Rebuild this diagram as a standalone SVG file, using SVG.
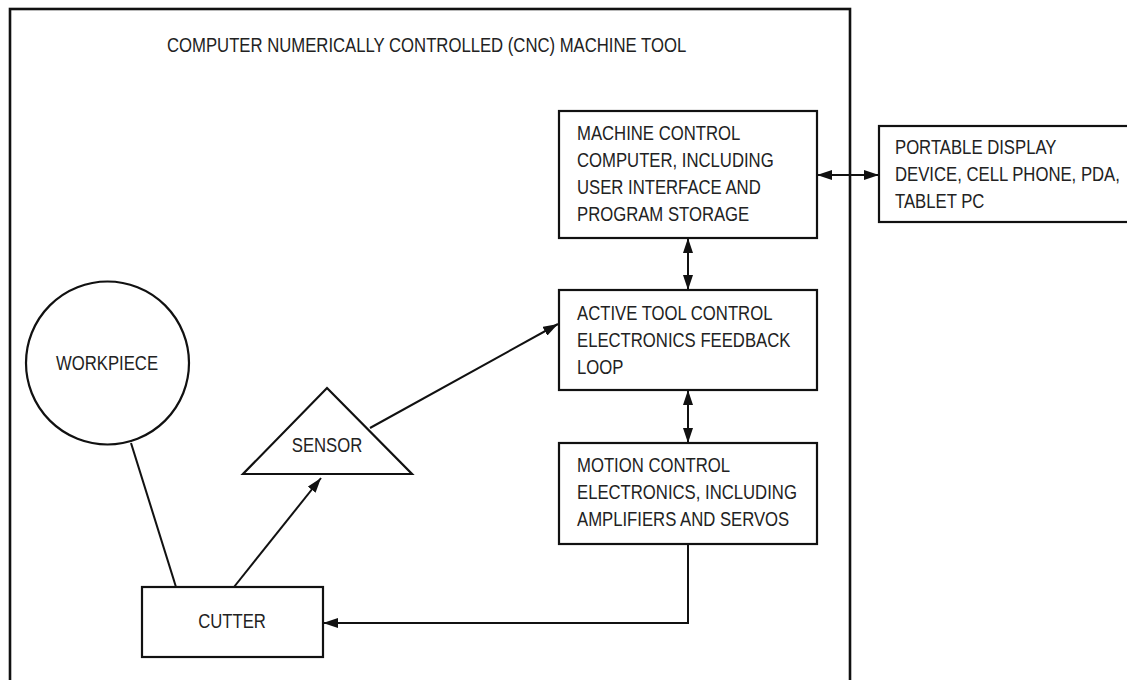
<svg xmlns="http://www.w3.org/2000/svg" width="1127" height="680" viewBox="0 0 1127 680">
<defs>
<style>
.box{fill:#fff;stroke:#111;stroke-width:2.2}
.ln{fill:none;stroke:#111;stroke-width:2}
.t{font-family:"Liberation Sans",Arial,sans-serif;font-size:20.5px;fill:#222}
.c{text-anchor:middle}
</style>
<marker id="ah" viewBox="0 0 15 10" refX="15" refY="5" markerWidth="15" markerHeight="10" markerUnits="userSpaceOnUse" orient="auto-start-reverse">
<path d="M0,0 L15,5 L0,10 Z" fill="#111"/>
</marker>
</defs>
<rect width="1127" height="680" fill="#fff"/>
<g id="frame">
<rect x="10" y="9" width="840" height="690" fill="none" stroke="#111" stroke-width="2.6"/>
<text class="t" transform="translate(167,52) scale(0.815,1)">COMPUTER NUMERICALLY CONTROLLED (CNC) MACHINE TOOL</text>
</g>
<g id="connectors">
<line class="ln" x1="817" y1="175" x2="879" y2="175" marker-start="url(#ah)" marker-end="url(#ah)"/>
<line class="ln" x1="688" y1="238" x2="688" y2="290" marker-start="url(#ah)" marker-end="url(#ah)"/>
<line class="ln" x1="688" y1="390" x2="688" y2="443" marker-start="url(#ah)" marker-end="url(#ah)"/>
<polyline class="ln" points="688,544 688,623 323,623" marker-end="url(#ah)"/>
<line class="ln" x1="131" y1="443" x2="176" y2="587"/>
<line class="ln" x1="234" y1="587" x2="321" y2="478" marker-end="url(#ah)"/>
<line class="ln" x1="370" y1="428" x2="558" y2="324" marker-end="url(#ah)"/>
</g>
<g id="machine-control">
<rect class="box" x="559" y="111" width="258" height="127"/>
<text class="t" transform="translate(577,140) scale(0.815,1)">MACHINE CONTROL</text>
<text class="t" transform="translate(577,167) scale(0.815,1)">COMPUTER, INCLUDING</text>
<text class="t" transform="translate(577,194) scale(0.815,1)">USER INTERFACE AND</text>
<text class="t" transform="translate(577,221) scale(0.815,1)">PROGRAM STORAGE</text>
</g>
<g id="portable-display">
<rect class="box" x="879" y="126" width="260" height="96"/>
<text class="t" transform="translate(895,154) scale(0.815,1)">PORTABLE DISPLAY</text>
<text class="t" transform="translate(895,181) scale(0.815,1)">DEVICE, CELL PHONE, PDA,</text>
<text class="t" transform="translate(895,208) scale(0.815,1)">TABLET PC</text>
</g>
<g id="active-tool-control">
<rect class="box" x="559" y="290" width="258" height="100"/>
<text class="t" transform="translate(577,320) scale(0.815,1)">ACTIVE TOOL CONTROL</text>
<text class="t" transform="translate(577,347) scale(0.815,1)">ELECTRONICS FEEDBACK</text>
<text class="t" transform="translate(577,374) scale(0.815,1)">LOOP</text>
</g>
<g id="motion-control">
<rect class="box" x="559" y="443" width="258" height="101"/>
<text class="t" transform="translate(577,472) scale(0.815,1)">MOTION CONTROL</text>
<text class="t" transform="translate(577,499) scale(0.815,1)">ELECTRONICS, INCLUDING</text>
<text class="t" transform="translate(577,526) scale(0.815,1)">AMPLIFIERS AND SERVOS</text>
</g>
<g id="workpiece">
<circle class="box" cx="107.5" cy="363" r="81.5"/>
<text class="t c" transform="translate(107,370) scale(0.815,1)">WORKPIECE</text>
</g>
<g id="sensor">
<polygon class="box" points="327,388 412,474 243,474"/>
<text class="t c" transform="translate(327,452) scale(0.815,1)">SENSOR</text>
</g>
<g id="cutter">
<rect class="box" x="142" y="587" width="181" height="70"/>
<text class="t c" transform="translate(232,628) scale(0.815,1)">CUTTER</text>
</g>
</svg>
